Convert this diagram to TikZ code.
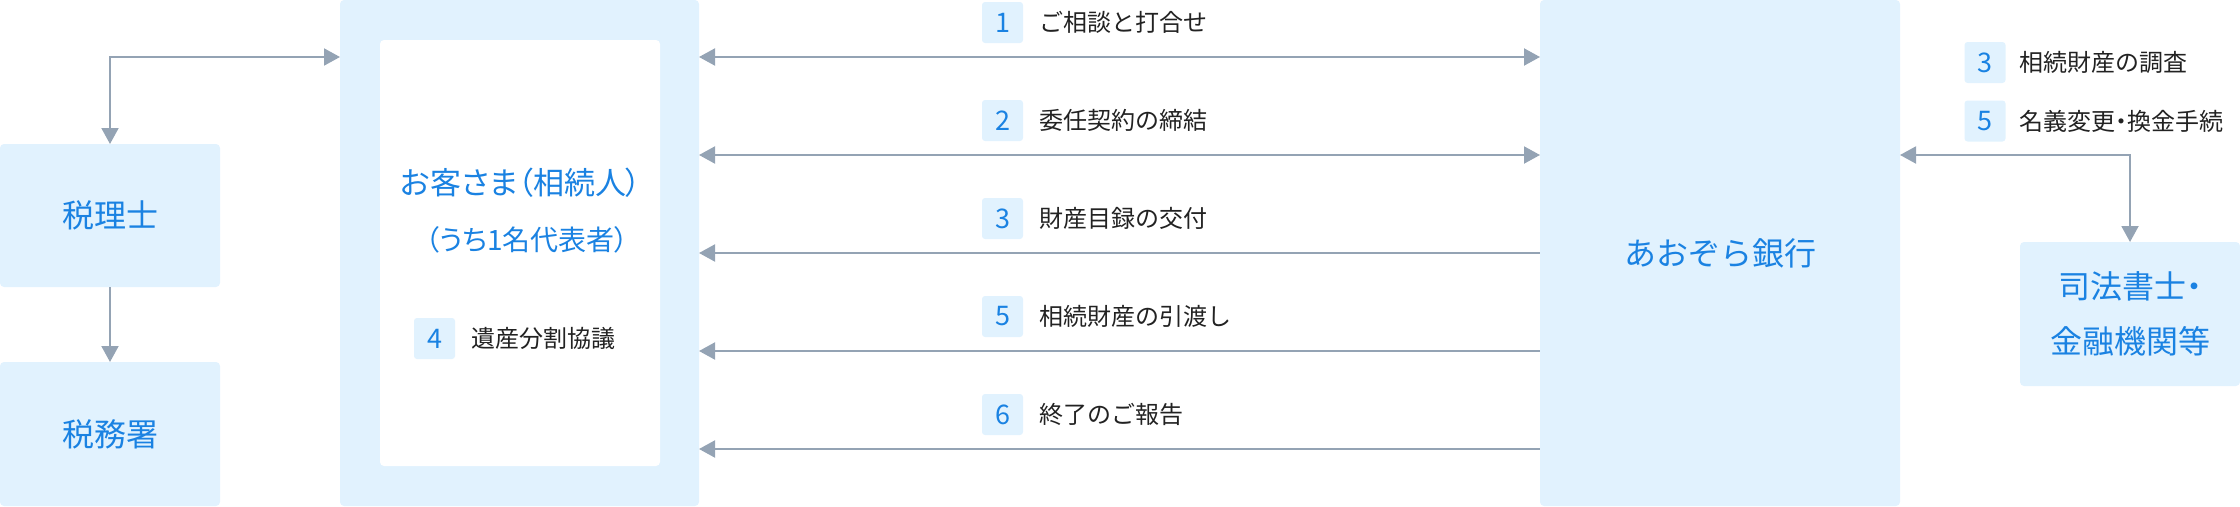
\documentclass[tikz,border=0pt]{standalone}
\usepackage{fontspec}
\setmainfont{Noto Sans CJK JP}
\newfontfamily\pfont[RawFeature={+palt}]{Noto Sans CJK JP}
\usetikzlibrary{arrows.meta,positioning,calc}
\definecolor{boxfill}{HTML}{E1F2FE}
\definecolor{txtblue}{HTML}{1A82E2}
\definecolor{arrgrey}{HTML}{94A3B4}
\definecolor{txtdark}{HTML}{222222}
\begin{document}
\begin{tikzpicture}[x=1pt,y=-1pt,
  box/.style={fill=boxfill, rounded corners=4pt, inner sep=0pt, outer sep=0pt, text=txtblue,
    font=\fontsize{32}{55}\selectfont, align=center},
  whitebox/.style={fill=white, rounded corners=4pt, inner sep=0pt, outer sep=0pt},
  badge/.style={fill=boxfill, rounded corners=3pt, minimum width=41pt, minimum height=41pt,
    inner sep=0pt, text=txtblue, font=\fontsize{27}{27}\selectfont},
  lbl/.style={anchor=west, inner sep=0pt, text=txtdark, font=\fontsize{24}{24}\selectfont},
  arr/.style={draw=arrgrey, line width=2pt, -{Triangle[length=16pt,width=17pt]}},
  arrback/.style={draw=arrgrey, line width=2pt, {Triangle[length=16pt,width=17pt]}-},
  arrboth/.style={draw=arrgrey, line width=2pt, {Triangle[length=16pt,width=17pt]}-{Triangle[length=16pt,width=17pt]}}
]
\useasboundingbox (0,0) rectangle (2240,506);

% boxes
\node[box, minimum width=220pt, minimum height=143pt] (zeirishi) at (110,215.5) {税理士};
\node[box, minimum width=220pt, minimum height=144pt] (zeimusho) at (110,434) {税務署};
\node[box, minimum width=359pt, minimum height=506pt] (client) at (519.5,253) {};
\node[whitebox, minimum width=280pt, minimum height=426pt] (inner) at (520,253) {};
\node[box, minimum width=360pt, minimum height=506pt] (bank) at (1720,253) {あおぞら銀行};
\node[box, minimum width=220pt, minimum height=144pt] (shiho) at (2130,314) {{\pfont 司法書士・}\\金融機関等};

% client texts
\node[inner sep=0pt, text=txtblue, font=\pfont\fontsize{31}{31}\selectfont] (cl1) at (521,183) {お客さま（相続人）};
\node[inner sep=0pt, text=txtblue, font=\pfont\fontsize{28}{28}\selectfont] (cl2) at (527,240) {（うち1名代表者）};
\node[badge] (b4) at (434.5,338.5) {4};
\node[lbl, right=16pt of b4] (t4) {遺産分割協議};

% rows
\coordinate (r1) at (0,57);
\coordinate (r2) at (0,155);
\coordinate (r3) at (0,253);
\coordinate (r4) at (0,351);
\coordinate (r5) at (0,449);

\node[badge] (b1) at (1002.5,22.5) {1};
\node[lbl, right=16pt of b1] (t1) {ご相談と打合せ};
\node[badge] (b2) at (1002.5,120.5) {2};
\node[lbl, right=16pt of b2] (t2) {委任契約の締結};
\node[badge] (b3) at (1002.5,218.5) {3};
\node[lbl, right=16pt of b3] (t3) {財産目録の交付};
\node[badge] (b5) at (1002.5,316.5) {5};
\node[lbl, right=16pt of b5] (t5) {相続財産の引渡し};
\node[badge] (b6) at (1002.5,414.5) {6};
\node[lbl, right=16pt of b6] (t6) {終了のご報告};

\draw[arrboth] (client.east |- r1) -- (bank.west |- r1);
\draw[arrboth] (client.east |- r2) -- (bank.west |- r2);
\draw[arrback] (client.east |- r3) -- (bank.west |- r3);
\draw[arrback] (client.east |- r4) -- (bank.west |- r4);
\draw[arrback] (client.east |- r5) -- (bank.west |- r5);

% right side
\node[badge] (rb3) at (1985,62.5) {3};
\node[lbl, right=14pt of rb3] (rt3) {相続財産の調査};
\node[badge] (rb5) at (1985,121) {5};
\node[lbl, right=14pt of rb5, font=\pfont\fontsize{24}{24}\selectfont] (rt5) {名義変更・換金手続};

\draw[arrboth] (bank.east |- r2) -| (shiho.north);

% left side
\draw[arrboth] (zeirishi.north) |- (client.west |- r1);
\draw[arr] (zeirishi.south) -- (zeimusho.north);
\end{tikzpicture}
\end{document}
